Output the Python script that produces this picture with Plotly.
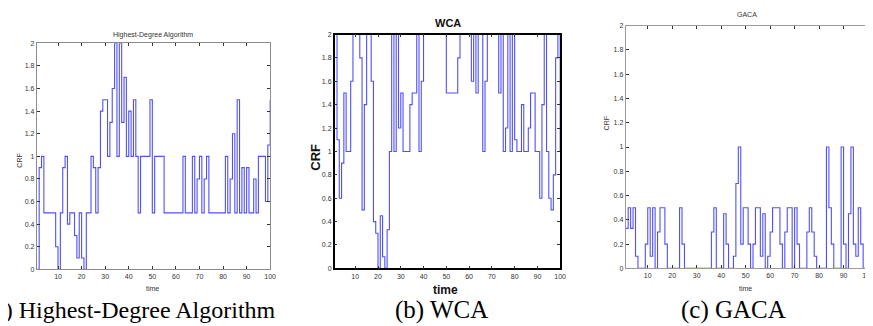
import plotly.graph_objects as go

time = list(range(1, 101))

crf_highest_degree = [
    0, 0.9, 1.0, 0.5, 0.5, 0.5, 0.5, 0.5, 0.2, 0,
    0.5, 0.9, 1.0, 0.4, 0.5, 0.5, 0.3, 0.1, 0.5, 0.1,
    0, 0.5, 0.5, 1.0, 0.9, 0.5, 0.9, 1.4, 1.5, 1.5,
    1.0, 1.3, 1.6, 2.0, 1.0, 2.0, 1.3, 1.7, 1.0, 1.4,
    1.0, 1.5, 1.0, 0.5, 1.0, 1.0, 1.0, 1.0, 1.5, 0.5,
    1.0, 1.0, 1.0, 1.0, 0.5, 0.5, 0.5, 0.5, 0.5, 0.5,
    0.5, 0.5, 1.0, 0.5, 0.5, 0.5, 1.0, 0.5, 0.8, 1.0,
    0.5, 0.8, 1.0, 0.5, 0.5, 0.5, 0.5, 0.5, 0.5, 0.5,
    1.0, 0.5, 0.8, 1.2, 0.5, 1.5, 0.5, 0.9, 0.5, 0.9,
    0.5, 0.5, 0.8, 0.5, 1.0, 1.0, 1.0, 0.6, 1.1, 1.5,
]

crf_wca = [
    2.0, 1.1, 0.6, 0.9, 1.5, 1.0, 1.0, 1.6, 2.0, 2.0,
    2.0, 1.8, 0.5, 1.4, 2.0, 2.0, 1.6, 0.4, 0.3, 0,
    0.45, 0.1, 0, 0.33, 1.0, 2.0, 1.0, 2.0, 1.2, 1.5,
    1.0, 1.0, 1.0, 1.4, 1.5, 1.5, 2.0, 1.0, 1.6, 2.0,
    2.0, 2.0, 2.0, 2.0, 2.0, 2.0, 2.0, 2.0, 2.0, 1.5,
    1.5, 1.5, 1.5, 1.5, 1.8, 2.0, 2.0, 2.0, 2.0, 2.0,
    1.6, 2.0, 1.5, 2.0, 2.0, 1.0, 1.6, 2.0, 2.0, 2.0,
    2.0, 2.0, 1.5, 2.0, 1.0, 1.2, 2.0, 1.0, 2.0, 1.1,
    1.0, 1.0, 1.4, 1.0, 1.0, 1.2, 1.5, 1.5, 1.0, 1.0,
    0.6, 1.4, 2.0, 1.0, 0.6, 0.5, 0.8, 1.8, 2.0, 1.0,
]

crf_gaca = [
    0.33, 0.5, 0.33, 0.5, 0.1, 0, 0, 0, 0.2, 0.5,
    0.1, 0.5, 0, 0.3, 0.5, 0.5, 0.2, 0, 0, 0,
    0, 0, 0.5, 0.2, 0, 0, 0, 0, 0, 0,
    0, 0, 0, 0, 0, 0.3, 0.5, 0, 0, 0,
    0.45, 0.2, 0, 0, 0.1, 0.7, 1.0, 0.2, 0.5, 0.5,
    0.2, 0, 0.2, 0.5, 0.5, 0.1, 0.45, 0, 0.1, 0.3,
    0.5, 0.5, 0.5, 0.2, 0, 0.3, 0.5, 0.5, 0, 0.5,
    0.2, 0, 0, 0, 0.3, 0.5, 0.3, 0.1, 0, 0,
    0, 0, 1.0, 0.5, 0.2, 0, 0, 0, 1.0, 0.2,
    0, 0.45, 1.0, 0.2, 0.1, 0.5, 0.2, 0, 0.45, 0.2,
]

x_ticks = [10, 20, 30, 40, 50, 60, 70, 80, 90, 100]
y_ticks = [0, 0.2, 0.4, 0.6, 0.8, 1, 1.2, 1.4, 1.6, 1.8, 2]
y_tick_text = ["0", "0.2", "0.4", "0.6", "0.8", "1", "1.2", "1.4", "1.6", "1.8", "2"]

titles = ["Highest-Degree Algorithm", "WCA", "GACA"]
captions = ["(a) Highest-Degree Algorithm", "(b) WCA", "(c) GACA"]

W, H = 873, 326

def px(x):
    return x / W

def py(y):
    return 1 - y / H

# plot boxes in pixels: (left, right, top, bottom)
boxes = [(29, 264, 32, 263), (329, 556, 23, 262), (622, 866, 14, 262)]
series = [crf_highest_degree, crf_wca, crf_gaca]
line_colors = ["#8c8c8c", "#000000", "#9a9a9a"]
line_widths = [1, 1.5, 1]

fig = go.Figure()
layout = dict(
    width=W, height=H,
    margin=dict(l=0, r=0, t=0, b=0),
    paper_bgcolor="white", plot_bgcolor="white",
    showlegend=False,
    font=dict(family="Liberation Sans, Arial, sans-serif", color="#222"),
)

for i, (vals, box) in enumerate(zip(series, boxes)):
    n = "" if i == 0 else str(i + 1)
    fig.add_trace(go.Scatter(
        x=time, y=vals, mode="lines",
        line=dict(shape="hv", color="rgba(20,20,255,0.75)", width=1.1),
        xaxis="x" + n, yaxis="y" + n,
    ))
    l, r, t, b = box
    layout["xaxis" + n] = dict(
        domain=[px(l), px(r)], range=[1, 100], tickvals=x_ticks,
        ticks="inside", ticklen=3, tickcolor="#333", mirror="ticks",
        showline=True, linecolor=line_colors[i], linewidth=line_widths[i],
        showgrid=False, zeroline=False, tickfont=dict(size=7, color="#333"),
        anchor="y" + n, fixedrange=True,
    )
    layout["yaxis" + n] = dict(
        domain=[py(b), py(t)], range=[0, 2], tickvals=y_ticks, ticktext=y_tick_text,
        ticks="inside", ticklen=3, tickcolor="#333", mirror="ticks",
        showline=True, linecolor=line_colors[i], linewidth=line_widths[i],
        showgrid=False, zeroline=False, tickfont=dict(size=7, color="#333"),
        anchor="x" + n, fixedrange=True,
    )

annotations = []
# titles
annotations.append(dict(text=titles[0], x=px(146), y=py(23), font=dict(size=7, color="#333")))
annotations.append(dict(text="<b>" + titles[1] + "</b>", x=px(443), y=py(11), font=dict(size=11, color="#111")))
annotations.append(dict(text=titles[2], x=px(744), y=py(3), font=dict(size=7, color="#333")))
# x labels
annotations.append(dict(text="time", x=px(146), y=py(283), font=dict(size=7, color="#333")))
annotations.append(dict(text="<b>time</b>", x=px(441), y=py(284), font=dict(size=12, color="#111")))
annotations.append(dict(text="time", x=px(743), y=py(283), font=dict(size=7, color="#333")))
# y labels
annotations.append(dict(text="CRF", x=px(12), y=py(152), textangle=-90, font=dict(size=7, color="#333")))
annotations.append(dict(text="<b>CRF</b>", x=px(310), y=py(148), textangle=-90, font=dict(size=13, color="#111")))
annotations.append(dict(text="CRF", x=px(603), y=py(114), textangle=-90, font=dict(size=7, color="#333")))
for a in annotations:
    a.update(xref="paper", yref="paper", showarrow=False, xanchor="center", yanchor="middle")

cap_font = dict(family="Liberation Serif, Times New Roman, serif", size=25, color="#000")
cap_font_a = dict(family="Liberation Serif, Times New Roman, serif", size=24, color="#000")
annotations.append(dict(text=captions[0], x=px(272), y=py(305), xref="paper", yref="paper",
                        showarrow=False, xanchor="right", yanchor="middle", font=cap_font_a))
annotations.append(dict(text=captions[1], x=px(437), y=py(305), xref="paper", yref="paper",
                        showarrow=False, xanchor="center", yanchor="middle", font=cap_font))
annotations.append(dict(text=captions[2], x=px(731), y=py(305), xref="paper", yref="paper",
                        showarrow=False, xanchor="center", yanchor="middle", font=cap_font))
layout["annotations"] = annotations

fig.update_layout(**layout)
fig.write_html("out.html")
